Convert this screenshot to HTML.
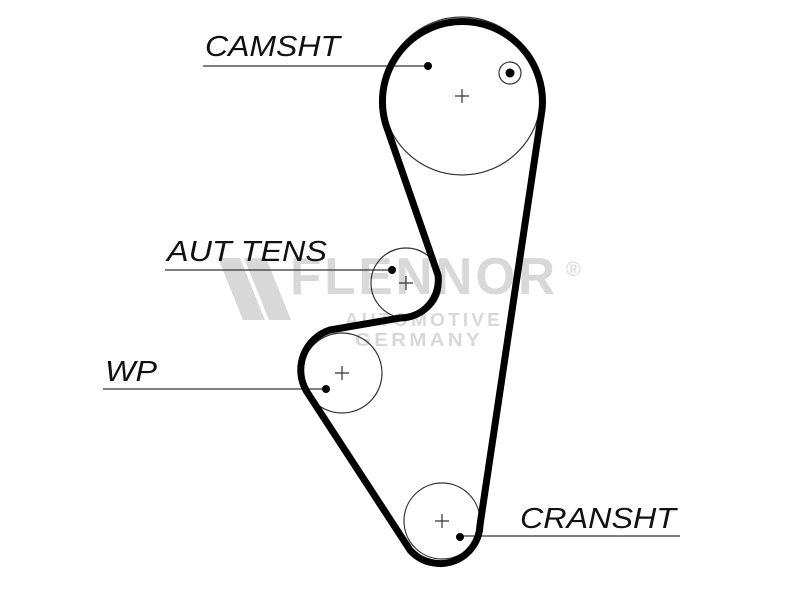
<!DOCTYPE html>
<html><head><style>body{margin:0;background:#fff}</style></head><body>
<svg width="800" height="600" xmlns="http://www.w3.org/2000/svg" font-family="Liberation Sans, sans-serif">
<rect width="800" height="600" fill="#fff"/>
<g fill="#d8d8d8" font-weight="bold">
<path d="M218 258h22l25 62h-22zM244 258h22l25 62h-22z"/>
<text x="290" y="294" font-size="52" letter-spacing="3" textLength="268" lengthAdjust="spacingAndGlyphs">FLENNOR</text>
<text x="345" y="326" font-size="18" letter-spacing="3" textLength="158" lengthAdjust="spacingAndGlyphs">AUTOMOTIVE</text>
<text x="355" y="346" font-size="18" letter-spacing="3" textLength="128" lengthAdjust="spacingAndGlyphs">GERMANY</text>
<text x="566" y="276" font-size="20" font-weight="normal">®</text>
</g>
<g fill="none" stroke="#333" stroke-width="1.2">
<circle cx="462" cy="96" r="79"/>
<circle cx="406" cy="283" r="35"/>
<circle cx="342" cy="373" r="40"/>
<circle cx="442" cy="521" r="38"/>
<circle cx="510" cy="73" r="11"/>
<path d="M455 96h14M462 89v14M399 283h14M406 276v14M335 373h14M342 366v14M435 521h14M442 514v14"/>
<path d="M203 66H428M165 270H392M103 389H326M460 536H680"/>
</g>
<g fill="#000"><circle cx="428" cy="66" r="4"/><circle cx="510" cy="73" r="4.5"/><circle cx="392" cy="270" r="4"/><circle cx="326" cy="389" r="4"/><circle cx="460" cy="537" r="4"/></g>
<path d="M386 125 A80 80 0 1 1 542 110 L480 525 A40 40 0 0 1 410 550 L307 392 A42 42 0 0 1 330 330 L400 318 A38 38 0 0 0 438 275 Z" fill="none" stroke="#000" stroke-width="7" stroke-linejoin="round"/>
<g font-style="italic" font-size="29" fill="#111">
<text x="205" y="56" textLength="135" lengthAdjust="spacingAndGlyphs">CAMSHT</text>
<text x="167" y="261" textLength="160" lengthAdjust="spacingAndGlyphs">AUT TENS</text>
<text x="105" y="381" textLength="52" lengthAdjust="spacingAndGlyphs">WP</text>
<text x="520" y="528" textLength="156" lengthAdjust="spacingAndGlyphs">CRANSHT</text>
</g>
</svg>
</body></html>
